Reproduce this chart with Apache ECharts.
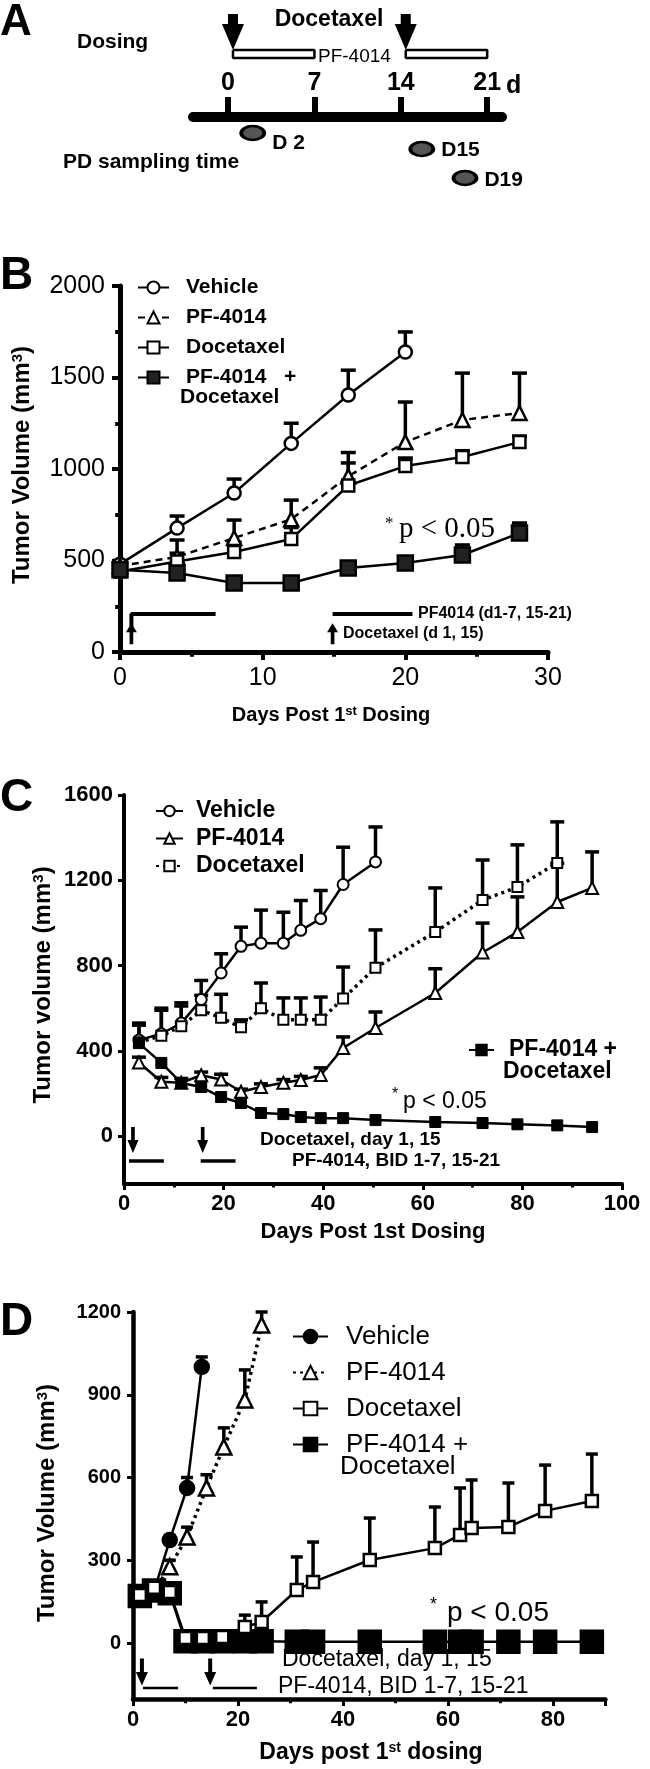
<!DOCTYPE html>
<html><head><meta charset="utf-8">
<script src="https://cdn.jsdelivr.net/npm/echarts@6/dist/echarts.min.js"></script>
<style>html,body{margin:0;padding:0;background:#fff}#c{width:650px;height:1769px}</style>
</head><body><div id="c"></div>
<script>
// ---------- Panel A (schedule) ----------
const A_axisDays = [0, 7, 14, 21];
const A_doseDays = [0.4, 14.4];
const A_pfStart = [0.4, 14.4];
const A_pfEnd = [7, 21];
const A_sampleDays = [2, 15.7, 19.2];
const A_sampleNames = ['D 2', 'D15', 'D19'];

// ---------- Panel B ----------
const B_days = [0, 4, 8, 12, 16, 20, 24, 28];
const B_vehicle = [480, 677, 869, 1140, 1404, 1639];
const B_vehicleErr = [500, 743, 945, 1250, 1540, 1749];
const B_pf = [470, 520, 623, 725, 960, 1147, 1268, 1306];
const B_pfErr = [495, 612, 721, 830, 1090, 1366, 1524, 1524];
const B_doc = [440, 495, 546, 617, 910, 1016, 1066, 1147];
const B_docErr = [465, 540, 600, 680, 1033, 1060, 1100, 1180];
const B_combo = [450, 432, 377, 377, 459, 486, 530, 650];
const B_comboErr = [480, 455, 395, 395, 480, 505, 585, 705];
const B_doceDays = [0.8, 14.9];
const B_pfPeriods = [[0.8, 6.7], [14.9, 20.5]];

// ---------- Panel C ----------
const C_days = [3, 7.5, 11.5, 15.5, 19.5, 23.5, 27.5, 32, 35.5, 39.5, 44, 50.5, 62.5, 72, 79, 87, 94];
const C_vehicle = [450, 480, 530, 640, 765, 890, 905, 905, 965, 1020, 1180, 1286];
const C_vehicleErr = [530, 590, 625, 730, 855, 980, 1060, 1050, 1105, 1152, 1355, 1450];
const C_doc = [440, 470, 515, 590, 555, 510, 600, 545, 545, 545, 645, 790, 957, 1107, 1168, 1281];
const C_docErr = [520, 600, 610, 660, 665, 545, 718, 648, 648, 652, 793, 967, 1164, 1295, 1366, 1474];
const C_pf = [345, 255, 250, 285, 265, 208, 230, 250, 263, 286, 413, 507, 671, 861, 957, 1098, 1164];
const C_pfErr = [370, 275, 270, 300, 290, 220, 245, 265, 280, 320, 465, 582, 785, 999, 1122, 1280, 1333];
const C_combo = [436, 343, 249, 230, 183, 155, 108, 103, 89, 84, 84, 75, 66, 61, 55, 50, 42];
const C_doceDays = [1.8, 15.8];
const C_pfPeriods = [[1, 8], [15.4, 22.4]];

// ---------- Panel D ----------
const D_vehDays = [1.3, 4.2, 7, 10.3, 13.1];
const D_vehicle = [167, 200, 373, 562, 1001];
const D_vehicleErr = [185, 215, 390, 600, 1037];
const D_pfDays = [1.3, 4.2, 7, 10.3, 14, 17.3, 21.3, 24.5];
const D_pf = [175, 195, 276, 384, 562, 711, 881, 1153];
const D_pfErr = [190, 210, 300, 420, 610, 780, 990, 1200];
const D_docDays = [1.3, 4, 7, 10, 13.3, 17, 21.3, 24.5, 31.2, 34.3, 45.1, 57.5, 62.3, 64.5, 71.5, 78.5, 87.4];
const D_doc = [174, 200, 185, 18, 18, 22, 58, 76, 192, 221, 301, 344, 392, 417, 421, 479, 515];
const D_docErr = [185, 210, 195, 30, 30, 35, 101, 149, 312, 366, 453, 493, 562, 591, 580, 645, 685];
const D_combo = [170, 190, 180, 6, 6, 6, 6, 6, 5, 5, 5, 5, 5, 5, 5, 5, 5];
const D_doceDays = [1.7, 14.7];
const D_pfPeriods = [[1.9, 8.6], [15.2, 23.6]];

const F = "'Liberation Sans', Arial, Helvetica, sans-serif";
const FS = "'Liberation Serif', 'Times New Roman', serif";
const DOWN = 'path://M6,0 L16,0 L16,10 L22,10 L11,36 L0,10 L6,10 Z';
const DOWN2 = 'path://M4,0 L8,0 L8,14 L12,14 L6,28 L0,14 L4,14 Z';
const UP = 'path://M6,0 L12,12 L8,12 L8,28 L4,28 L4,12 L0,12 Z';
const plain = v => String(v);

function lineS(name, g, xs, ys, o) {
  return {
    type: 'line', name, xAxisIndex: g, yAxisIndex: g, animation: false, z: o.z || 3,
    data: ys.map((y, i) => [xs[i], y]),
    symbol: o.symbol, symbolSize: o.size, showSymbol: true,
    lineStyle: { color: '#000', width: o.lw || 2.5, type: o.dash || 'solid' },
    itemStyle: { color: o.fill, borderColor: '#000', borderWidth: o.bw || 2.5 }
  };
}
function errS(g, xs, ys, tops, cap, w) {
  return {
    type: 'custom', xAxisIndex: g, yAxisIndex: g, z: 1, silent: true, animation: false,
    data: ys.map((y, i) => [xs[i], y, tops[i]]),
    encode: { x: 0, y: [1, 2] },
    renderItem: (p, api) => {
      const a = api.coord([api.value(0), api.value(1)]);
      const b = api.coord([api.value(0), api.value(2)]);
      return { type: 'group', children: [
        { type: 'line', shape: { x1: a[0], y1: a[1], x2: b[0], y2: b[1] }, style: { stroke: '#000', lineWidth: w } },
        { type: 'line', shape: { x1: b[0] - cap / 2, y1: b[1], x2: b[0] + cap / 2, y2: b[1] }, style: { stroke: '#000', lineWidth: w } }
      ]};
    }
  };
}
function segS(g, pts, w) {
  return { type: 'line', xAxisIndex: g, yAxisIndex: g, data: pts, symbol: 'none', silent: true, animation: false,
    lineStyle: { color: '#000', width: w }, z: 2 };
}
function arrowS(g, days, y, sym, size) {
  return { type: 'scatter', xAxisIndex: g, yAxisIndex: g, data: days.map(d => [d, y]), symbol: sym, symbolSize: size,
    silent: true, animation: false, clip: false, itemStyle: { color: '#000', opacity: 1 }, z: 2 };
}
function T(text, x, y, size, weight, o) {
  o = o || {};
  const st = { text, fill: '#000', font: `${weight} ${size}px ${o.fam || F}`,
    textAlign: o.align || 'left', textVerticalAlign: 'middle' };
  if (o.rich) st.rich = o.rich;
  return { type: 'text', x, y, rotation: o.rot || 0, style: st, z: 10 };
}
function sup(size, weight) {
  return { s: { fontSize: size, fontWeight: weight, fontFamily: F, verticalAlign: 'top', lineHeight: size } };
}
function xAx(g, min, max, interval, o) {
  return {
    type: 'value', gridIndex: g, min, max, interval,
    axisLine: { onZero: false, lineStyle: { color: '#000', width: o.lw } },
    axisTick: { length: o.tl, lineStyle: { width: o.tw, color: '#000' } },
    minorTick: { show: true, splitNumber: 2, length: o.tl * 0.6, lineStyle: { width: o.tw, color: '#000' } },
    axisLabel: { color: '#000', fontFamily: F, fontSize: o.fs, fontWeight: o.fw, margin: o.m,
      showMaxLabel: o.smax !== false, formatter: plain },
    splitLine: { show: false }, minorSplitLine: { show: false }
  };
}
function yAx(g, min, max, o) {
  const ax = {
    type: 'value', gridIndex: g, min, max,
    axisLine: { onZero: false, lineStyle: { color: '#000', width: o.lw } },
    axisTick: { length: o.tl, lineStyle: { width: o.tw, color: '#000' } },
    axisLabel: { color: '#000', fontFamily: F, fontSize: o.fs, fontWeight: o.fw, margin: o.m, formatter: plain },
    splitLine: { show: false }
  };
  if (o.interval) {
    ax.interval = o.interval;
    ax.minorTick = { show: true, splitNumber: 2, length: o.tl * 0.6, lineStyle: { width: o.tw, color: '#000' } };
  }
  if (o.custom) { ax.axisLabel.customValues = o.custom; ax.axisTick.customValues = o.custom; }
  return ax;
}

const series = [];
// Panel A
series.push(arrowS(0, A_doseDays, 85, DOWN, [22, 36]));
A_pfStart.forEach((s, i) => {
  const e = A_pfEnd[i];
  series.push({ type: 'line', xAxisIndex: 0, yAxisIndex: 0, symbol: 'none', silent: true, animation: false,
    data: [[s, 67], [e, 67], [e, 59], [s, 59], [s, 67]], lineStyle: { color: '#000', width: 2.5 } });
});
series.push({ type: 'scatter', xAxisIndex: 0, yAxisIndex: 0, animation: false, silent: true, clip: false,
  data: A_sampleDays.map((d, i) => ({ value: [d, [-16, -32, -61][i]], name: A_sampleNames[i],
    label: { offset: [0, [10, 1, 2][i]] } })),
  symbol: 'circle', symbolSize: [23, 14],
  itemStyle: { color: '#555', borderColor: '#000', borderWidth: 3, opacity: 1 },
  label: { show: true, position: 'right', distance: 6, formatter: p => p.name, color: '#000',
    fontFamily: F, fontWeight: 'bold', fontSize: 21 } });

// Panel B
series.push(errS(1, B_days, B_vehicle, B_vehicleErr, 15, 3.5));
series.push(errS(1, B_days, B_pf, B_pfErr, 15, 3.5));
series.push(errS(1, B_days, B_doc, B_docErr, 15, 3.5));
series.push(errS(1, B_days, B_combo, B_comboErr, 15, 3.5));
series.push(lineS('B Vehicle', 1, B_days, B_vehicle, { symbol: 'circle', size: 13, fill: '#fff', lw: 2.5 }));
series.push(lineS('B PF-4014', 1, B_days, B_pf, { symbol: 'triangle', size: 14, fill: '#fff', lw: 2.5, dash: [7, 5] }));
series.push(lineS('B Docetaxel', 1, B_days, B_doc, { symbol: 'rect', size: 12, fill: '#fff', lw: 2.5 }));
series.push(lineS('B PF-4014   +', 1, B_days, B_combo, { symbol: 'rect', size: 15, fill: '#222', lw: 2.5 }));
series.push(segS(1, [[B_pfPeriods[0][0], 140], [B_pfPeriods[0][0], 208], [B_pfPeriods[0][1], 208]], 4));
series.push(segS(1, [[B_pfPeriods[1][0], 208], [B_pfPeriods[1][1], 208]], 4));
series.push(arrowS(1, B_doceDays, 100, UP, [11, 21]));

// Panel C
series.push(errS(2, C_days, C_vehicle, C_vehicleErr, 14, 3.5));
series.push(errS(2, C_days, C_doc, C_docErr, 14, 3.5));
series.push(errS(2, C_days, C_pf, C_pfErr, 14, 3.5));
series.push(lineS('C Vehicle', 2, C_days, C_vehicle, { symbol: 'circle', size: 11, fill: '#fff', lw: 2.5, bw: 2 }));
series.push(lineS('C PF-4014', 2, C_days, C_pf, { symbol: 'triangle', size: 12, fill: '#fff', lw: 2.5, bw: 2 }));
series.push(lineS('C Docetaxel', 2, C_days, C_doc, { symbol: 'rect', size: 10, fill: '#fff', lw: 3.5, bw: 2, dash: [3, 4] }));
series.push(lineS('C PF-4014 +', 2, C_days, C_combo, { symbol: 'rect', size: 11, fill: '#000', lw: 2.5, bw: 1 }));
C_pfPeriods.forEach(p => series.push(segS(2, [[p[0], -117], [p[1], -117]], 3.5)));
series.push(arrowS(2, C_doceDays, -19, DOWN2, [11, 26]));

// Panel D
series.push(errS(3, D_vehDays, D_vehicle, D_vehicleErr, 12, 3.5));
series.push(errS(3, D_pfDays, D_pf, D_pfErr, 12, 3.5));
series.push(errS(3, D_docDays, D_doc, D_docErr, 12, 3.5));
series.push(lineS('D Vehicle', 3, D_vehDays, D_vehicle, { symbol: 'circle', size: 14, fill: '#000', lw: 2.5 }));
series.push(lineS('D PF-4014', 3, D_pfDays, D_pf, { symbol: 'triangle', size: 15, fill: '#fff', lw: 3.5, dash: [3, 4] }));
series.push(lineS('D PF-4014 +', 3, D_docDays, D_combo, { symbol: 'rect', size: 22, fill: '#000', lw: 2.5, z: 3 }));
series.push(lineS('D Docetaxel', 3, D_docDays, D_doc, { symbol: 'rect', size: 12, fill: '#fff', lw: 2.5, z: 4 }));
D_pfPeriods.forEach(p => series.push(segS(3, [[p[0], -163], [p[1], -163]], 2.5)));
series.push(arrowS(3, D_doceDays, -105, DOWN2, [12, 27]));

const legendBase = (o) => ({
  orient: 'vertical', left: o.left, top: o.top, itemWidth: o.iw, itemHeight: o.ih, itemGap: o.gap,
  data: o.data, selectedMode: false, formatter: n => n.slice(2),
  textStyle: { color: '#000', fontFamily: F, fontWeight: o.fw, fontSize: o.fs, lineHeight: o.lh, padding: [0, 0, 0, o.pad] }
});

const option = {
  backgroundColor: '#fff',
  animation: false,
  grid: [
    { left: 193, top: 0, width: 309, height: 117 },
    { left: 120, top: 286, width: 428, height: 366 },
    { left: 124, top: 795, width: 498, height: 389 },
    { left: 133, top: 1312, width: 472.5, height: 387 }
  ],
  xAxis: [
    { type: 'value', gridIndex: 0, min: -2.84, max: 22.2,
      axisLine: { onZero: false, lineStyle: { color: '#000', width: 10 } },
      axisTick: { customValues: A_axisDays, inside: true, length: 20, lineStyle: { width: 6, color: '#000' } },
      axisLabel: { customValues: A_axisDays, inside: true, margin: 21, color: '#000', fontFamily: F, fontWeight: 'bold', fontSize: 25, formatter: plain },
      splitLine: { show: false } },
    xAx(1, 0, 30, 10, { lw: 5, tl: 8, tw: 4, fs: 25, fw: 'normal', m: 14 }),
    xAx(2, 0, 100, 20, { lw: 4, tl: 6, tw: 3, fs: 22, fw: 'bold', m: 9 }),
    xAx(3, 0, 90, 20, { lw: 4.5, tl: 7, tw: 3, fs: 22, fw: 'bold', m: 10, smax: false })
  ],
  yAxis: [
    { type: 'value', gridIndex: 0, min: 0, max: 117, show: false },
    yAx(1, 0, 2000, { lw: 5, tl: 8, tw: 4, fs: 25, fw: 'normal', m: 15, interval: 500 }),
    yAx(2, -225, 1600, { lw: 4, tl: 6, tw: 3, fs: 22, fw: 'bold', m: 11, custom: [0, 400, 800, 1200, 1600] }),
    yAx(3, -203, 1200, { lw: 4.5, tl: 6, tw: 3, fs: 20, fw: 'bold', m: 12, custom: [0, 300, 600, 900, 1200] })
  ],
  legend: [
    legendBase({ left: 132, top: 270, iw: 31, ih: 15, gap: 5, fw: 'bold', fs: 21, lh: 25, pad: 12,
      data: ['B Vehicle', 'B PF-4014', 'B Docetaxel', 'B PF-4014   +'] }),
    legendBase({ left: 150, top: 794, iw: 27, ih: 13, gap: 3.5, fw: 'bold', fs: 23, lh: 24, pad: 8,
      data: ['C Vehicle', 'C PF-4014', 'C Docetaxel'] }),
    legendBase({ left: 463, top: 1033, iw: 25, ih: 13, gap: 3, fw: 'bold', fs: 23, lh: 24, pad: 10,
      data: ['C PF-4014 +'] }),
    legendBase({ left: 287, top: 1318, iw: 35, ih: 17, gap: 9, fw: 'normal', fs: 26, lh: 27, pad: 13,
      data: ['D Vehicle', 'D PF-4014', 'D Docetaxel', 'D PF-4014 +'] })
  ],
  graphic: [
    // Panel A
    T('A', 0, 23, 44, 'bold'),
    T('Dosing', 77, 42, 21, 'bold'),
    T('Docetaxel', 329, 20, 23, 'bold', { align: 'center' }),
    T('PF-4014', 318, 57, 19, 'normal'),
    T('d', 506, 86, 25, 'bold'),
    T('PD sampling time', 63, 162, 21, 'bold'),
    // Panel B
    T('B', 0, 276, 46, 'bold'),
    T('Tumor Volume (mm{s|3})', 22, 465, 24, 'bold', { align: 'center', rot: Math.PI / 2, rich: sup(15, 'bold') }),
    T('Days Post 1{s|st} Dosing', 331, 715, 20, 'bold', { align: 'center', rich: sup(13, 'bold') }),
    T('Docetaxel', 180, 397, 21, 'bold'),
    T('*', 385, 524, 17, 'normal', { fam: FS }),
    T('p < 0.05', 399, 529, 29, 'normal', { fam: FS }),
    T('PF4014 (d1-7, 15-21)', 418, 614, 16, 'bold'),
    T('Docetaxel (d 1, 15)', 343, 634, 16, 'bold'),
    // Panel C
    T('C', 0, 798, 46, 'bold'),
    T('Tumor volume (mm{s|3})', 43, 985, 24, 'bold', { align: 'center', rot: Math.PI / 2, rich: sup(15, 'bold') }),
    T('Days Post 1st Dosing', 373, 1232, 22, 'bold', { align: 'center' }),
    T('Docetaxel', 503, 1072, 23, 'bold'),
    T('*', 392, 1095, 16, 'normal'),
    T('p < 0.05', 403, 1102, 23, 'normal'),
    T('Docetaxel, day 1, 15', 260, 1140, 19, 'bold'),
    T('PF-4014, BID 1-7, 15-21', 292, 1161, 19, 'bold'),
    // Panel D
    T('D', 0, 1322, 46, 'bold'),
    T('Tumor Volume (mm{s|3})', 47, 1503, 24, 'bold', { align: 'center', rot: Math.PI / 2, rich: sup(15, 'bold') }),
    T('Days post 1{s|st} dosing', 371, 1753, 23, 'bold', { align: 'center', rich: sup(14, 'bold') }),
    T('Docetaxel', 340, 1467, 26, 'normal'),
    T('*', 430, 1605, 18, 'normal'),
    T('p < 0.05', 447, 1613, 28, 'normal'),
    T('Docetaxel, day 1, 15', 282, 1660, 23, 'normal'),
    T('PF-4014, BID 1-7, 15-21', 278, 1687, 23, 'normal')
  ],
  series
};
const chart = echarts.init(document.getElementById('c'), null, { renderer: 'canvas' });
chart.setOption(option);
</script></body></html>
